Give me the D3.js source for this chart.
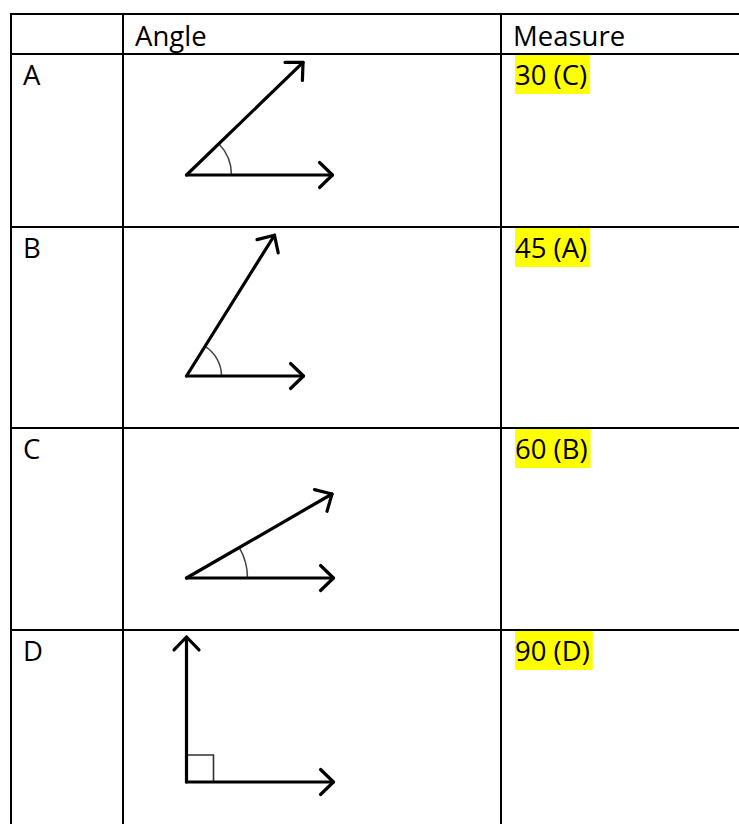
<!DOCTYPE html>
<html>
<head>
<meta charset="utf-8">
<script src="https://cdn.jsdelivr.net/npm/d3@7"></script>
<style>
  html, body { margin: 0; padding: 0; background: #fff; }
  svg { display: block; }
</style>
</head>
<body>
<script>
// ---- data ----
const headers = ["", "Angle", "Measure"];
const rowLabels = ["A", "B", "C", "D"];
const measureLabels = ["30 (C)", "45 (A)", "60 (B)", "90 (D)"];
const drawnAngles = [44, 58, 30, 90];          // angle between the two rays, degrees (as drawn)
const highlighted = [true, true, true, true];

// ---- layout ----
const W = 739, H = 824;
const colLines = [11, 123, 501];
const rowLines = [14, 54, 227, 428, 630];
const rayLen = [162, 166, 168, 145];
const baseLen = [146, 117, 147, 147];
const arcR = [45, 35, 61, 27];
const vertexDrop = [121, 149, 150, 152];
const vertexX = 186.5;
const fontFamily = "'Open Sans', 'Noto Sans', sans-serif";
const fontSize = 27.5;

const svg = d3.select("body").append("svg").attr("width", W).attr("height", H);

const rowTop = d3.scaleOrdinal().domain(["header"].concat(rowLabels)).range(rowLines);
const colX = d3.scaleOrdinal().domain([0, 1, 2]).range(colLines);

// grid lines
const grid = svg.append("g").attr("stroke", "#000").attr("stroke-width", 2);
grid.selectAll("line.h").data(rowLines).join("line").attr("class", "h")
  .attr("x1", colLines[0] - 1).attr("x2", W).attr("y1", d => d).attr("y2", d => d);
grid.selectAll("line.v").data(colLines).join("line").attr("class", "v")
  .attr("x1", d => d).attr("x2", d => d).attr("y1", rowLines[0] - 1).attr("y2", H);

const txt = (g, x, y, s) => g.append("text").attr("x", x).attr("y", y)
  .attr("font-family", fontFamily).attr("font-size", fontSize).attr("fill", "#000").text(s);

// header
headers.forEach((h, i) => { if (h) txt(svg, colX(i) + 12, rowTop("header") + 32, h); });

// rows
rowLabels.forEach((r, i) => {
  const top = rowTop(r);
  txt(svg, colX(0) + 12, top + 31, r);

  // measure with highlight
  const g = svg.append("g");
  const hl = g.append("rect").attr("fill", "#FFFF00");
  const t = txt(g, colX(2) + 14, top + 31, measureLabels[i]);
  const w = t.node().getComputedTextLength();
  if (highlighted[i]) hl.attr("x", colX(2) + 14).attr("y", top + 1).attr("width", w + 3).attr("height", 39);

  // angle drawing
  const vx = vertexX, vy = top + vertexDrop[i];
  const th = drawnAngles[i] * Math.PI / 180;
  const tipA = [vx + rayLen[i] * Math.cos(th), vy - rayLen[i] * Math.sin(th)];
  const tipB = [vx + baseLen[i], vy];
  const ag = svg.append("g").attr("fill", "none");

  // angle marker
  if (drawnAngles[i] === 90) {
    const s = arcR[i];
    ag.append("path").attr("d", `M${vx},${vy - s}H${vx + s}V${vy}`)
      .attr("stroke", "#333").attr("stroke-width", 1.6);
  } else {
    const arc = d3.arc().innerRadius(arcR[i]).outerRadius(arcR[i])
      .startAngle(Math.PI / 2 - th).endAngle(Math.PI / 2);
    ag.append("path").attr("d", arc()).attr("transform", `translate(${vx},${vy})`)
      .attr("stroke", "#444").attr("stroke-width", 1.5);
  }

  const line = d3.line();
  const arrow = (tip, ang) => {
    const a = 18, spread = 44 * Math.PI / 180;
    const p1 = [tip[0] - a * Math.cos(ang - spread), tip[1] + a * Math.sin(ang - spread)];
    const p2 = [tip[0] - a * Math.cos(ang + spread), tip[1] + a * Math.sin(ang + spread)];
    return line([p1, tip, p2]);
  };
  const stroke = sel => sel.attr("stroke", "#000").attr("stroke-width", 3.2)
    .attr("stroke-linecap", "round").attr("stroke-linejoin", "round");
  ag.append("path").attr("d", line([[vx, vy], tipA])).call(stroke);
  ag.append("path").attr("d", line([[vx, vy], tipB])).call(stroke);
  ag.append("path").attr("d", arrow(tipA, th)).call(stroke);
  ag.append("path").attr("d", arrow(tipB, 0)).call(stroke);
});
</script>
</body>
</html>
